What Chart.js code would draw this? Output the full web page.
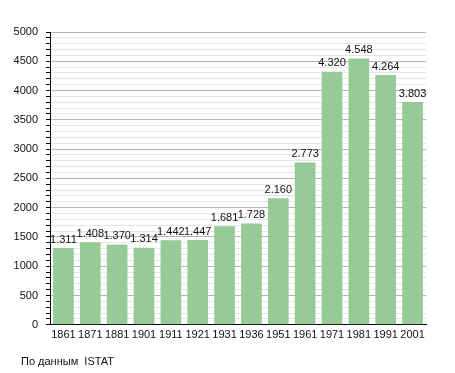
<!DOCTYPE html>
<html>
<head>
<meta charset="utf-8">
<script src="https://cdn.jsdelivr.net/npm/chart.js@4/dist/chart.umd.min.js"></script>
<style>
  html, body { margin: 0; padding: 0; background: #fff; }
  #wrap { width: 455px; height: 373px; position: relative; }
</style>
</head>
<body>
<div id="wrap"><canvas id="popChart"></canvas></div>
<script>
const years = ["1861", "1871", "1881", "1901", "1911", "1921", "1931", "1936", "1951", "1961", "1971", "1981", "1991", "2001"];
const population = [1311, 1408, 1370, 1314, 1442, 1447, 1681, 1728, 2160, 2773, 4320, 4548, 4264, 3803];
const sourceNote = "По данным  ISTAT";

const fontFamily = "'Liberation Sans', Arial, sans-serif";

function fmt(v) {
    return String(v).replace(/\B(?=(\d{3})+(?!\d))/g, ".");
}

const barLabels = {
    id: "barLabels",
    afterDatasetsDraw(chart) {
        const ctx = chart.ctx;
        const meta = chart.getDatasetMeta(0);
        ctx.save();
        ctx.font = "11px " + fontFamily;
        ctx.fillStyle = "#111";
        ctx.textAlign = "center";
        ctx.textBaseline = "bottom";
        meta.data.forEach((bar, i) => {
            ctx.fillText(fmt(population[i]), bar.x, bar.y - 3);
        });
        ctx.restore();
    }
};

const sourceText = {
    id: "sourceText",
    afterDraw(chart) {
        const ctx = chart.ctx;
        ctx.save();
        ctx.font = "11px " + fontFamily;
        ctx.fillStyle = "#111";
        ctx.textAlign = "left";
        ctx.textBaseline = "middle";
        ctx.fillText(sourceNote, 21, 362);
        ctx.restore();
    }
};

new Chart(document.getElementById("popChart"), {
    type: "bar",
    data: {
        labels: years,
        datasets: [{
            data: population,
            backgroundColor: "#96ca96",
            borderWidth: 0,
            barPercentage: 0.77,
            categoryPercentage: 1
        }]
    },
    options: {
        responsive: true,
        maintainAspectRatio: false,
        animation: false,
        layout: { padding: { left: 0, top: 32, right: 29, bottom: 27 } },
        plugins: {
            legend: { display: false },
            tooltip: { enabled: false }
        },
        scales: {
            x: {
                grid: { display: false, drawTicks: false, tickLength: 0 },
                border: { color: "#000", width: 1 },
                ticks: {
                    color: "#111",
                    font: { family: fontFamily, size: 11 },
                    padding: 4,
                    maxRotation: 0,
                    autoSkip: false
                }
            },
            y: {
                min: 0,
                max: 5000,
                afterFit(scale) { scale.width = 50; },
                border: { color: "#000", width: 1 },
                grid: {
                    color: c => (c.tick && c.tick.value % 500 === 0) ? "#b4b4b4" : "#e6e6e6",
                    tickColor: "#000",
                    tickLength: 4,
                    lineWidth: 1
                },
                ticks: {
                    stepSize: 100,
                    autoSkip: false,
                    color: "#111",
                    font: { family: fontFamily, size: 11 },
                    padding: 8,
                    callback: v => (v % 500 === 0 ? v : "")
                }
            }
        }
    },
    plugins: [barLabels, sourceText]
});
</script>
</body>
</html>
